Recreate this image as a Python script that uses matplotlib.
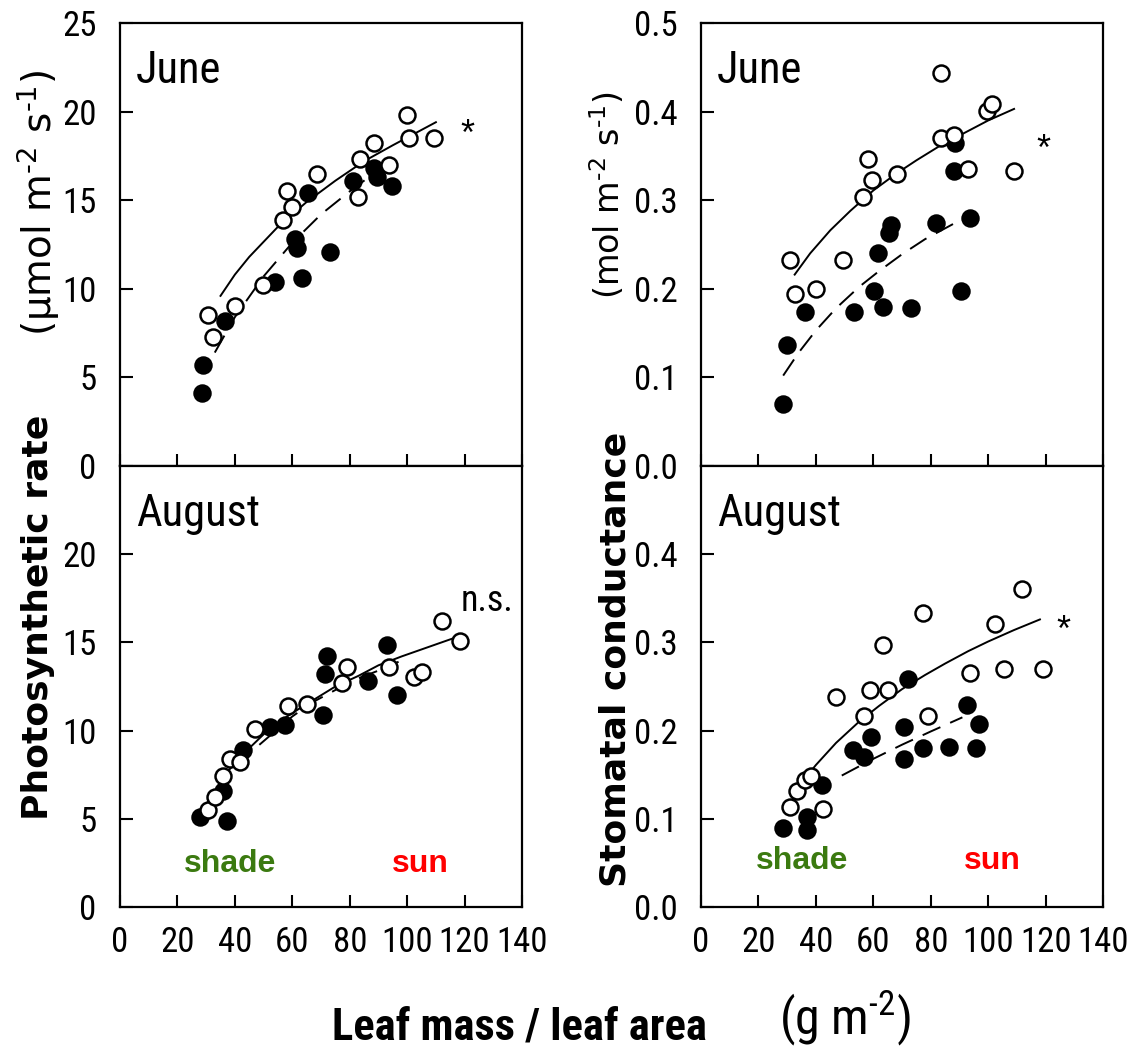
import matplotlib
matplotlib.use("Agg")
import matplotlib.pyplot as plt

NARROW = ["Roboto Condensed", "Archivo Narrow", "DejaVu Sans"]
WIDE = ["DejaVu Sans"]
ARIAL = ["Liberation Sans", "DejaVu Sans"]

# ---- data ----
# June, photosynthetic rate
jun_ps_open_x = [30.8, 32.5, 40.1, 49.9, 56.9, 59.8, 58.1, 68.5, 83.6, 83.0, 88.3, 93.5, 99.9, 100.5, 109.2]
jun_ps_open_y = [8.5, 7.3, 9.0, 10.2, 13.9, 14.6, 15.5, 16.5, 17.3, 15.2, 18.2, 17.0, 19.8, 18.5, 18.5]
jun_ps_fill_x = [28.5, 29.0, 36.6, 54.0, 63.3, 61.0, 61.6, 73.2, 65.6, 81.3, 88.3, 89.4, 94.7]
jun_ps_fill_y = [4.1, 5.7, 8.2, 10.4, 10.6, 12.8, 12.3, 12.1, 15.4, 16.1, 16.8, 16.3, 15.8]
jun_ps_sun_fit_x = [35, 40, 45, 55, 65, 75, 85, 95, 110]
jun_ps_sun_fit_y = [9.6, 10.8, 11.8, 13.5, 14.9, 16.1, 17.2, 18.1, 19.4]
jun_ps_shade_fit_x = [33, 40, 50, 60, 70, 80, 90, 95]
jun_ps_shade_fit_y = [6.4, 8.4, 10.7, 12.6, 14.2, 15.5, 16.7, 17.3]

# August, photosynthetic rate
aug_ps_open_x = [30.8, 33.1, 36.0, 38.3, 41.8, 47.0, 58.6, 65.0, 79.0, 77.2, 93.5, 102.2, 105.1, 112.0, 118.5]
aug_ps_open_y = [5.5, 6.25, 7.4, 8.4, 8.2, 10.1, 11.4, 11.5, 13.6, 12.7, 13.6, 13.05, 13.3, 16.2, 15.1]
aug_ps_fill_x = [27.9, 37.2, 36.0, 43.0, 52.3, 57.5, 70.8, 71.4, 72.0, 86.5, 92.9, 96.4]
aug_ps_fill_y = [5.1, 4.9, 6.6, 8.9, 10.2, 10.3, 10.9, 13.2, 14.2, 12.8, 14.85, 12.0]
aug_ps_sun_fit_x = [30, 37, 45, 52, 60, 68, 75, 83, 90, 98, 105, 112, 119]
aug_ps_sun_fit_y = [5.8, 7.6, 9.0, 10.1, 11.0, 11.8, 12.5, 13.1, 13.7, 14.2, 14.6, 15.0, 15.4]
aug_ps_shade_fit_x = [29, 35, 40, 45, 50, 55, 60, 67, 75, 82, 90, 97]
aug_ps_shade_fit_y = [5.2, 6.6, 7.8, 8.7, 9.4, 10.1, 10.8, 11.6, 12.3, 12.9, 13.4, 13.9]

# June, stomatal conductance
jun_gs_open_x = [31.0, 32.6, 40.1, 49.3, 56.3, 59.7, 58.0, 68.4, 83.4, 83.4, 88.0, 93.1, 99.4, 101.2, 108.8]
jun_gs_open_y = [0.233, 0.194, 0.200, 0.233, 0.304, 0.323, 0.346, 0.330, 0.444, 0.370, 0.374, 0.335, 0.401, 0.408, 0.333]
jun_gs_fill_x = [28.6, 29.8, 36.1, 53.3, 60.3, 63.2, 73.0, 61.5, 65.5, 66.1, 81.7, 88.0, 88.6, 90.4, 93.8]
jun_gs_fill_y = [0.070, 0.136, 0.174, 0.174, 0.198, 0.179, 0.178, 0.240, 0.263, 0.272, 0.274, 0.333, 0.365, 0.198, 0.280]
jun_gs_sun_fit_x = [32.6, 38, 45, 52, 60, 68, 75, 83, 90, 100, 109]
jun_gs_sun_fit_y = [0.216, 0.240, 0.266, 0.288, 0.311, 0.330, 0.345, 0.361, 0.373, 0.390, 0.403]
jun_gs_shade_fit_x = [28.6, 34, 40, 47, 55, 62, 70, 78, 86, 94]
jun_gs_shade_fit_y = [0.102, 0.128, 0.153, 0.178, 0.202, 0.220, 0.239, 0.256, 0.270, 0.284]

# August, stomatal conductance
aug_gs_open_x = [31.0, 33.3, 36.1, 38.4, 42.4, 47.1, 56.9, 58.7, 65.0, 63.3, 77.2, 79.0, 93.6, 102.3, 105.6, 111.9, 118.9]
aug_gs_open_y = [0.113, 0.132, 0.144, 0.149, 0.111, 0.238, 0.217, 0.246, 0.246, 0.297, 0.333, 0.217, 0.265, 0.321, 0.270, 0.361, 0.270]
aug_gs_fill_x = [28.7, 36.8, 36.8, 42.0, 52.8, 56.9, 59.2, 70.7, 70.7, 77.2, 71.9, 86.3, 92.7, 95.6, 96.8]
aug_gs_fill_y = [0.089, 0.087, 0.102, 0.138, 0.178, 0.170, 0.193, 0.168, 0.204, 0.180, 0.259, 0.181, 0.229, 0.180, 0.208]
aug_gs_sun_fit_x = [32, 36, 40, 47, 55, 62, 70, 78, 85, 93, 100, 109, 118]
aug_gs_sun_fit_y = [0.127, 0.145, 0.161, 0.186, 0.210, 0.228, 0.247, 0.263, 0.276, 0.290, 0.301, 0.314, 0.326]
aug_gs_shade_fit_x = [49, 60, 70, 80, 91]
aug_gs_shade_fit_y = [0.149, 0.168, 0.184, 0.199, 0.215]

x_ticks = [0, 20, 40, 60, 80, 100, 120, 140]
ps_ticks = [0, 5, 10, 15, 20, 25]
gs_ticks = [0.0, 0.1, 0.2, 0.3, 0.4, 0.5]

plt.rcParams['mathtext.default'] = 'regular'
plt.rcParams['axes.linewidth'] = 1.6

fig = plt.figure(figsize=(11.3, 10.54), dpi=100)

def panel(rect, ylim, yticks, ylabels, show_x, open_xy, fill_xy, sun_fit, shade_fit, month):
    ax = fig.add_axes(rect)
    ax.plot(sun_fit[0], sun_fit[1], color='black', lw=1.4, zorder=1)
    ax.plot(shade_fit[0], shade_fit[1], color='black', lw=1.4, dashes=(10, 5.5), zorder=1)
    ax.plot(fill_xy[0], fill_xy[1], 'o', ms=11.5, mfc='black', mec='black', mew=1.8, zorder=2)
    ax.plot(open_xy[0], open_xy[1], 'o', ms=11.5, mfc='white', mec='black', mew=1.8, zorder=3)
    ax.set_xlim(0, 140)
    ax.set_ylim(*ylim)
    ax.set_xticks(x_ticks)
    ax.set_yticks(yticks)
    ax.set_yticklabels(ylabels, family=NARROW, fontsize=25)
    if show_x:
        ax.set_xticklabels([str(t) for t in x_ticks], family=NARROW, fontsize=25)
    else:
        ax.set_xticklabels([])
    ax.tick_params(direction='in', length=9, width=1.5)
    ax.tick_params(axis='y', pad=17)
    ax.tick_params(axis='x', pad=14)
    ax.text(0.04, 0.865, month, transform=ax.transAxes, family=NARROW,
            fontsize=32, va='baseline', ha='left')
    return ax

L, R, W = 0.1062, 0.6204, 0.3558
top_rect = (0.5579, 0.4203)
bot_rect = (0.1395, 0.4184)

ax1 = panel((L, top_rect[0], W, top_rect[1]), (0, 25), ps_ticks, [str(t) for t in ps_ticks], False,
            (jun_ps_open_x, jun_ps_open_y), (jun_ps_fill_x, jun_ps_fill_y),
            (jun_ps_sun_fit_x, jun_ps_sun_fit_y), (jun_ps_shade_fit_x, jun_ps_shade_fit_y), 'June')
ax2 = panel((L, bot_rect[0], W, bot_rect[1]), (0, 25), ps_ticks[:-1], [str(t) for t in ps_ticks[:-1]], True,
            (aug_ps_open_x, aug_ps_open_y), (aug_ps_fill_x, aug_ps_fill_y),
            (aug_ps_sun_fit_x, aug_ps_sun_fit_y), (aug_ps_shade_fit_x, aug_ps_shade_fit_y), 'August')
ax3 = panel((R, top_rect[0], W, top_rect[1]), (0, 0.5), gs_ticks, ['%.1f' % t for t in gs_ticks], False,
            (jun_gs_open_x, jun_gs_open_y), (jun_gs_fill_x, jun_gs_fill_y),
            (jun_gs_sun_fit_x, jun_gs_sun_fit_y), (jun_gs_shade_fit_x, jun_gs_shade_fit_y), 'June')
ax4 = panel((R, bot_rect[0], W, bot_rect[1]), (0, 0.5), gs_ticks[:-1], ['%.1f' % t for t in gs_ticks[:-1]], True,
            (aug_gs_open_x, aug_gs_open_y), (aug_gs_fill_x, aug_gs_fill_y),
            (aug_gs_sun_fit_x, aug_gs_sun_fit_y), (aug_gs_shade_fit_x, aug_gs_shade_fit_y), 'August')

# significance marks
ax1.text(120.8, 18.1, '*', family=ARIAL, fontsize=26, ha='center', va='baseline')
ax2.text(118.5, 16.8, 'n.s.', family=NARROW, fontsize=26, ha='left', va='baseline')
ax3.text(119.3, 0.345, '*', family=ARIAL, fontsize=26, ha='center', va='baseline')
ax4.text(126.2, 0.302, '*', family=ARIAL, fontsize=26, ha='center', va='baseline')

# shade / sun labels
green, red = '#3b7a10', '#ff0000'
for ax, xs, xu, yb in [(ax2, 38.3, 104.5, 2.0), (ax4, 35.1, 101.6, 0.043)]:
    ax.text(xs, yb, 'shade', color=green, family=ARIAL, weight='bold', fontsize=23, ha='center', va='baseline')
    ax.text(xu, yb, 'sun', color=red, family=ARIAL, weight='bold', fontsize=23, ha='center', va='baseline')

# axis titles (superscripts use a plain hyphen as in the original)
fig.text(0.034, 0.414, 'Photosynthetic rate', rotation=90, family=WIDE, weight='bold',
         fontsize=26, ha='center', va='center')
fig.text(0.034, 0.807, '(μmol m$^{\u20102}$ s$^{\u20101}$)', rotation=90, family=WIDE,
         fontsize=28, ha='center', va='center')
fig.text(0.545, 0.374, 'Stomatal conductance', rotation=90, family=WIDE, weight='bold',
         fontsize=26, ha='center', va='center')
fig.text(0.538, 0.815, '(mol m$^{\u20102}$ s$^{\u20101}$)', rotation=90, family=WIDE,
         fontsize=24, ha='center', va='center')
fig.text(0.46, 0.0133, 'Leaf mass / leaf area', family=NARROW, weight='bold',
         fontsize=32, ha='center', va='baseline')
fig.text(0.748, 0.034, '(g m$^{\u20102}$)', family=NARROW, fontsize=36, ha='center', va='center')

fig.savefig('out.png', dpi=100)
